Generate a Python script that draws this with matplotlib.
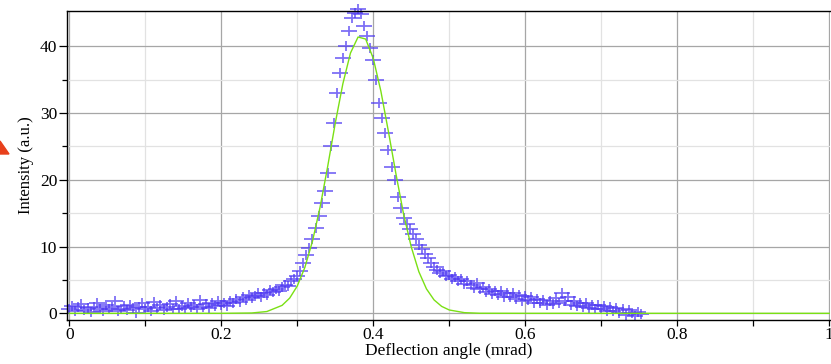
import numpy as np
import matplotlib.pyplot as plt
from matplotlib.path import Path
from matplotlib.patches import Polygon

# measured intensity, sampled every 0.004 mrad starting at 0
angle_step = 0.004
intensity = [
    0.6, 1.1, 0.3, 0.9, 1.4, 0.5, 0.8, 0.2, 1.0, 1.6, 0.7, 0.4, 1.2, 0.6, 0.9, 1.8,
    0.3, 0.7, 1.1, 0.5, 1.3, 0.8, 0.1, 0.9, 1.5, 0.6, 1.0, 0.4, 1.7, 0.8, 1.2, 0.5,
    0.9, 1.4, 0.7, 1.9, 0.6, 1.1, 0.8, 1.5, 0.9, 1.3, 0.7, 2.0, 1.0, 1.4, 0.8, 1.6,
    1.1, 1.8, 1.2,
    1.5, 1.1, 1.9, 1.6, 2.2, 1.7, 2.4, 2.0, 2.8, 2.3, 2.6, 3.1, 2.5, 3.0, 2.8, 3.5,
    3.2, 3.7, 3.4, 4.0, 4.3, 4.1, 4.8, 5.2, 5.6,
    6.3, 7.5, 8.8, 9.8, 11.2, 12.8, 14.6, 16.5, 18.3, 21.0, 25.0, 28.5,
    33.0, 36.0, 38.2, 40.0, 42.3, 44.2, 45.0, 45.6, 44.8, 43.0, 41.6, 39.8,
    38.0, 35.0, 31.5, 29.2, 27.0, 24.5, 22.0, 20.0, 17.5, 15.8, 14.3, 13.4,
    12.7, 11.9, 11.1, 10.2, 9.6, 8.9, 8.3, 7.5, 7.0, 6.5, 6.1, 6.3, 5.6, 5.8,
    5.2, 5.5, 4.8, 5.1, 4.4, 4.9, 4.2, 3.8, 4.5, 3.6, 3.9, 3.2, 3.7, 2.9, 3.4,
    2.7, 3.3, 2.5, 3.0, 2.4, 3.1, 2.2, 2.8, 1.9, 2.6, 2.0, 2.4, 1.6, 2.2, 1.5,
    2.0, 1.3, 1.9, 1.4, 2.3, 1.6, 3.0, 1.8, 2.4, 1.2, 1.9, 1.1, 1.6, 0.9, 1.5,
    0.8, 1.3, 0.7, 1.2, 0.6, 1.1, 0.4, 0.9, 0.3, 0.8, 0.1, 0.6, -0.2, 0.5, 0.0,
    -0.4, 0.2, -0.1,
]
angle = np.arange(len(intensity)) * angle_step

# gaussian fit curve
fit_angle = [0.0, 0.2, 0.24, 0.26, 0.28, 0.29, 0.30, 0.31, 0.32, 0.33, 0.34, 0.35,
             0.36, 0.37, 0.38, 0.39, 0.40, 0.41, 0.42, 0.43, 0.44, 0.45, 0.46,
             0.47, 0.48, 0.49, 0.50, 0.52, 0.54, 0.6, 1.0]
fit_intensity = [0.0, 0.0, 0.05, 0.27, 1.19, 2.28, 4.09, 6.88, 10.8, 15.9, 22.0, 28.5,
                 34.4, 39.0, 41.4, 41.1, 38.2, 33.3, 27.2, 20.8, 14.8, 9.94, 6.23,
                 3.66, 2.01, 1.04, 0.50, 0.10, 0.01, 0.0, 0.0]

plt.rcParams['font.family'] = ['Liberation Serif', 'DejaVu Serif']

fig = plt.figure(figsize=(8.31, 3.64), dpi=100)
ax = fig.add_axes([67 / 831, 1 - 320 / 364, 763 / 831, 309 / 364])

# wide, flat cross marker
cross = Path([(-1, 0), (1, 0), (0, -0.65), (0, 0.65)],
             [Path.MOVETO, Path.LINETO, Path.MOVETO, Path.LINETO])
ax.plot(angle, intensity, linestyle='none', marker=cross, markersize=12,
        markeredgewidth=1.3, color=(0.30, 0.22, 0.95), alpha=0.72, clip_on=False)
ax.plot(fit_angle, fit_intensity, color='#7ae014', lw=1.0)

ax.set_xlim(-0.003, 1.001)
ax.set_ylim(-1.0, 45.3)
ax.set_xticks([0, 0.2, 0.4, 0.6, 0.8, 1.0])
ax.set_xticklabels(['0', '0.2', '0.4', '0.6', '0.8', '1'])
ax.set_xticks(np.arange(0.1, 1.0, 0.2), minor=True)
ax.set_yticks([0, 10, 20, 30, 40])
ax.set_yticks([5, 15, 25, 35], minor=True)

ax.set_axisbelow(True)
ax.grid(which='major', color='#a6a6a6', lw=0.9)
ax.grid(which='minor', color='#e2e2e2', lw=0.9)

ax.spines['right'].set_visible(False)
for s in ['left', 'bottom', 'top']:
    ax.spines[s].set_linewidth(1.0)
ax.tick_params(axis='x', which='both', length=4, width=0.9, pad=1, labelsize=12.5)
ax.tick_params(axis='y', which='major', length=6, width=0.9, pad=1, labelsize=12.5)
ax.tick_params(axis='y', which='minor', length=3.5, width=0.9)

ax.set_xlabel('Deflection angle (mrad)', fontsize=12.5, labelpad=0)
ax.set_ylabel('Intensity (a.u.)', fontsize=12, labelpad=4)

# small red triangle at the left margin
fig.patches.append(Polygon([(0 / 831, 1 - 141 / 364), (9 / 831, 1 - 154 / 364),
                            (0 / 831, 1 - 154 / 364)], closed=True,
                           transform=fig.transFigure, color='#e8401c'))

fig.savefig('out.png', dpi=100)
